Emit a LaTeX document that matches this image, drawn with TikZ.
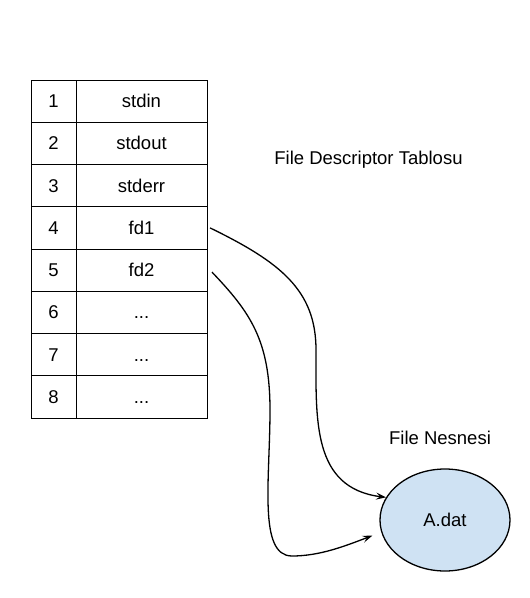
\documentclass[tikz,border=0pt]{standalone}
\usepackage{fontspec}
\setmainfont{Liberation Sans}
\usepackage{xcolor}
\usetikzlibrary{arrows.meta}
\usetikzlibrary{shapes.geometric}
\usetikzlibrary{positioning}
\definecolor{objblue}{HTML}{CFE2F3}
\newcommand{\moreslots}{...}
\tikzstyle{numcell} = [rectangle, draw, line width=0.8pt, minimum width=45pt,
    minimum height=42.25pt, inner sep=0pt, outer sep=0pt, text height=13.2pt, text depth=0pt,
    font=\fontsize{18.5}{22}\selectfont]
\tikzstyle{valcell} = [numcell, minimum width=131pt]
\tikzstyle{caption} = [font=\fontsize{18.5}{22}\selectfont]
\tikzstyle{fileobj} = [ellipse, draw, line width=1.3pt, fill=objblue,
    minimum width=130pt, minimum height=102pt, font=\fontsize{18.5}{22}\selectfont]
\tikzstyle{line} = [draw, line width=1.3pt, -{Stealth[length=10pt, width=7pt, inset=4pt]}]

\begin{document}
\begin{tikzpicture}[x=1pt, y=-1pt]
  \useasboundingbox (0,0) rectangle (530,598);
  % Place nodes
  \node [numcell] (n1) at (53.5,101.125) {1};
  \node [valcell, right=0pt of n1] (v1) {stdin};
  \foreach \i/\txt [remember=\i as \j (initially 1)] in {2/stdout, 3/stderr, 4/fd1, 5/fd2, 6/\moreslots, 7/\moreslots, 8/\moreslots} {
    \node [numcell, below=0pt of n\j] (n\i) {\i};
    \node [valcell, right=0pt of n\i] (v\i) {\txt};
  }
  \node [caption] (tabletitle) at (368.5,160) {File Descriptor Tablosu};
  \node [fileobj] (adat) at (445,520) {A.dat};
  \node [caption] (objtitle) at (440,438) {File Nesnesi};

  % Draw edges
  \path [line] ([xshift=3pt]v4.east) .. controls (280,262) and (316,290) .. (316,350)
    .. controls (316,420) and (312,488) .. (adat.159);
  \path [line] ([xshift=5pt,yshift=-2pt]v5.east) .. controls (250,312) and (270,340) .. (270,410)
    .. controls (270,480) and (258,556) .. (292,556)
    .. controls (320,556) and (345,546) .. ([xshift=-10pt]adat.194);
\end{tikzpicture}
\end{document}
